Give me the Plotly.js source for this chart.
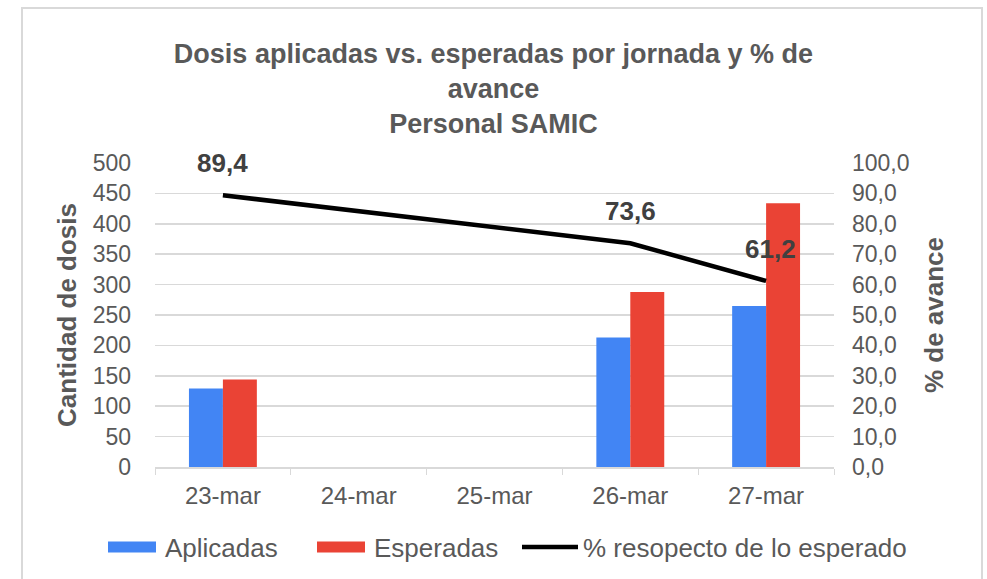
<!DOCTYPE html>
<html>
<head>
<meta charset="utf-8">
<script src="https://cdn.plot.ly/plotly-3.0.1.min.js"></script>
<style>html,body{margin:0;padding:0;background:#fff;}#chart{width:987px;height:579px;}</style>
</head>
<body>
<div id="chart"></div>
<script>
const categories = ['23-mar', '24-mar', '25-mar', '26-mar', '27-mar'];
const aplicadas = [129, null, null, 213, 265];
const esperadas = [144, null, null, 288, 434];
const avance = [89.4, null, null, 73.6, 61.2];
const leftTicks = [0, 50, 100, 150, 200, 250, 300, 350, 400, 450, 500];
const rightTicks = [0, 10, 20, 30, 40, 50, 60, 70, 80, 90, 100];

const FONT = 'Liberation Sans, Arial, sans-serif';
const GRAY = '#595959';

const traces = [
  {type: 'bar', name: 'Aplicadas', x: categories, y: aplicadas,
   marker: {color: '#4285f4'}, yaxis: 'y'},
  {type: 'bar', name: 'Esperadas', x: categories, y: esperadas,
   marker: {color: '#ea4335'}, yaxis: 'y'},
  {type: 'scatter', mode: 'lines', name: '% resopecto de lo esperado', x: categories, y: avance,
   connectgaps: true, line: {color: '#000000', width: 4.5}, yaxis: 'y2'}
];

const annotations = categories.map((c, i) => avance[i] == null ? null : {
  x: c, y: avance[i], xref: 'x', yref: 'y2',
  text: '<b>' + avance[i].toFixed(1).replace('.', ',') + '</b>',
  showarrow: false, yshift: 32, xshift: i === 4 ? 4 : 0,
  font: {family: FONT, size: 26, color: '#404040'}
}).filter(a => a);

const layout = {
  width: 987, height: 579,
  paper_bgcolor: '#ffffff', plot_bgcolor: '#ffffff',
  margin: {l: 155, r: 153, t: 163, b: 112, autoexpand: false},
  separators: ',.',
  font: {family: FONT, color: GRAY, size: 23},
  title: {
    text: '<b>Dosis aplicadas vs. esperadas por jornada y % de<br>avance<br>Personal SAMIC</b>',
    font: {family: FONT, size: 27, color: GRAY},
    x: 0.5, xanchor: 'center', y: 0.892, yanchor: 'top'
  },
  barmode: 'group', bargap: 0.5, bargroupgap: 0,
  showlegend: true,
  legend: {orientation: 'h', x: (99 - 155) / 679, xanchor: 'left',
           y: (467 - 547) / 304, yanchor: 'middle',
           font: {family: FONT, size: 26, color: GRAY}, itemwidth: 56, traceorder: 'normal',
           entrywidth: 138},
  xaxis: {
    type: 'category', tickfont: {size: 24, color: GRAY},
    tickmode: 'array', tickvals: categories, ticktext: categories, tickangle: 0,
    showline: true, linecolor: '#d9d9d9', linewidth: 1.5,
    ticks: 'outside', tickson: 'boundaries', ticklen: 6, tickcolor: '#d9d9d9',
    ticklabelstandoff: 7,
    showgrid: false, fixedrange: true
  },
  yaxis: {
    range: [0, 500], tickvals: leftTicks, ticktext: leftTicks.map(String),
    showgrid: true, gridcolor: '#d9d9d9', gridwidth: 1.5, zeroline: false,
    tickfont: {size: 23, color: GRAY}, ticklabelstandoff: 23,
    title: {text: '<b>Cantidad de dosis</b>', font: {size: 26, color: GRAY}, standoff: 8}
  },
  yaxis2: {
    overlaying: 'y', side: 'right', range: [0, 100],
    tickvals: rightTicks, tickformat: '.1f',
    showgrid: false, zeroline: false,
    tickfont: {size: 23, color: GRAY}, ticklabelstandoff: 17,
    title: {text: '<b>% de avance</b>', font: {size: 26, color: GRAY}, standoff: 16}
  },
  annotations: annotations,
  shapes: [{
    type: 'rect', xref: 'paper', yref: 'paper',
    x0: (22 - 155) / 679, x1: (982 - 155) / 679,
    y0: -0.42, y1: 1 + (163 - 8) / 304,
    line: {color: '#d9d9d9', width: 2}, fillcolor: 'rgba(0,0,0,0)', layer: 'below'
  }]
};

function fixLegend(gd) {
  const sb = gd.querySelector('g.legend g.scrollbox');
  if (sb) sb.removeAttribute('clip-path');
  const groups = gd.querySelectorAll('g.legend g.traces');
  groups.forEach(function (g, i) {
    if (i > 1) return;
    g.querySelectorAll('g.legendpoints path').forEach(function (p) {
      p.setAttribute('d', 'M24,5.5H-24V-5.5H24Z');
    });
  });
}

Plotly.newPlot('chart', traces, layout, {displayModeBar: false, staticPlot: true}).then(function (gd) {
  fixLegend(gd);
  setTimeout(function () { fixLegend(gd); }, 50);
});
</script>
</body>
</html>
